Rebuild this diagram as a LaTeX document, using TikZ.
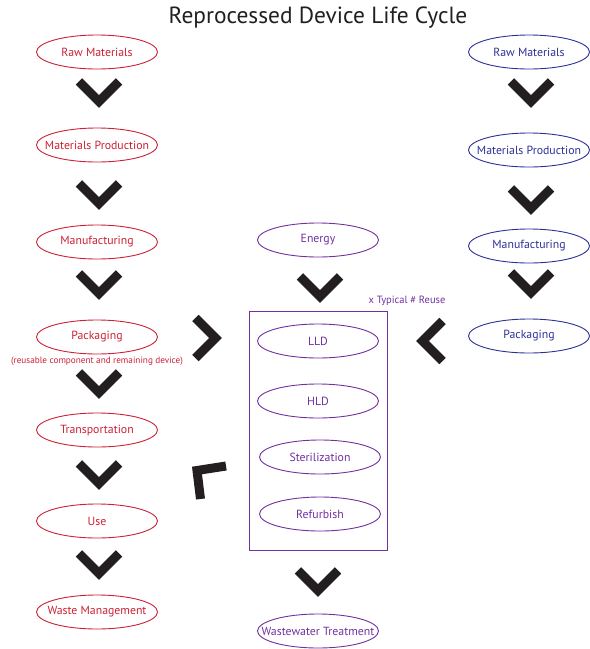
\documentclass[tikz,border=0pt]{standalone}
\usepackage{fontspec}
\setmainfont{PT Sans}
\usetikzlibrary{shapes.geometric}
\definecolor{cred}{RGB}{204,32,52}
\definecolor{cblue}{RGB}{45,48,150}
\definecolor{cpurple}{RGB}{112,48,160}
\definecolor{cblack}{RGB}{35,31,32}
\newcommand{\zwtext}[1]{\makebox[0pt]{#1}}
\tikzset{
  oval/.style={ellipse, draw, line width=0.9pt, minimum width=121pt, minimum height=34pt, inner sep=0pt, font=\fontsize{11.8}{14}\selectfont},
  redoval/.style={oval, draw=cred, text=cred},
  blueoval/.style={oval, draw=cblue, text=cblue},
  purpoval/.style={oval, draw=cpurple, text=cpurple},
  chevline/.style={draw=cblack, line width=9pt, line join=miter, line cap=butt},
  chevdown/.pic={\draw[chevline] (-20,-11.6) -- (0,8.4) -- (20,-11.6);}
}
\begin{document}
\begin{tikzpicture}[x=1pt,y=-1pt]
\useasboundingbox (0,0) rectangle (590,649);
\node[font=\fontsize{23.4}{28}\selectfont, text=cblack] (title) at (318,18) {Reprocessed Device Life Cycle};
% left column
\node[redoval] (lraw) at (97,52) {\zwtext{Raw Materials}};
\node[redoval] (lprod) at (97,145) {\zwtext{Materials Production}};
\node[redoval] (lmanu) at (97,242) {\zwtext{Manufacturing}};
\node[redoval] (lpack) at (97,337) {\zwtext{Packaging}};
\node[text=cred, font=\fontsize{9.2}{11}\selectfont] (lpacknote) at (97,361) {(reusable component and remaining device)};
\node[redoval] (ltrans) at (97,430) {\zwtext{Transportation}};
\node[redoval] (luse) at (97,521) {\zwtext{Use}};
\node[redoval] (lwaste) at (97,612) {\zwtext{Waste Management}};
\pic at (99,93) {chevdown};
\pic at (99,195) {chevdown};
\pic at (99,285) {chevdown};
\pic at (99,384) {chevdown};
\pic at (99,475) {chevdown};
\pic at (99,565) {chevdown};
% middle
\node[purpoval] (energy) at (318,240) {\zwtext{Energy}};
\pic at (320,288) {chevdown};
\node[draw=cpurple, line width=0.9pt, minimum width=138pt, minimum height=239pt, inner sep=0pt] (box) at (318,430.5) {};
\node[text=cpurple, font=\fontsize{10.5}{12}\selectfont] (reuse) at (407,301) {x Typical \# Reuse};
\node[purpoval] (lld) at (318,341) {\zwtext{LLD}};
\node[purpoval] (hld) at (318,401) {\zwtext{HLD}};
\node[purpoval] (steril) at (320,457) {\zwtext{Sterilization}};
\node[purpoval] (refurb) at (320,514) {\zwtext{Refurbish}};
\pic at (318,582) {chevdown};
\node[purpoval] (wwt) at (318,631) {\zwtext{Wastewater Treatment}};
% side chevrons
\pic[rotate=90] at (207,338) {chevdown};
\pic[rotate=-90] at (431,341) {chevdown};
\draw[chevline] (226,466) -- (197,470.5) -- (200.5,499);
% right column
\node[blueoval] (rraw) at (529,52) {\zwtext{Raw Materials}};
\node[blueoval] (rprod) at (529,150) {\zwtext{Materials Production}};
\node[blueoval] (rmanu) at (529,246) {\zwtext{Manufacturing}};
\node[blueoval] (rpack) at (529,336) {\zwtext{Packaging}};
\pic at (531,93) {chevdown};
\pic at (531,200) {chevdown};
\pic at (531,284) {chevdown};
\end{tikzpicture}
\end{document}
